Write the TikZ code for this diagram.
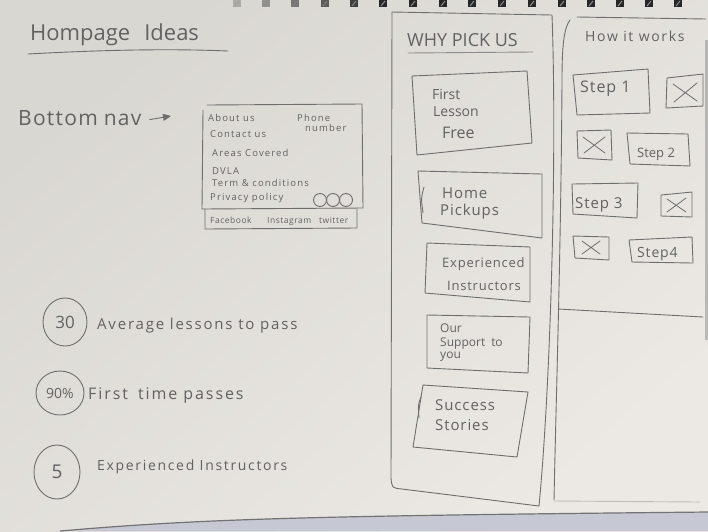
\documentclass[tikz,border=0pt]{standalone}
\usepackage{fontspec}
\setmainfont{Open Sans}
\newfontfamily\handwide[LetterSpace=12]{Open Sans}
\newfontfamily\handmid[LetterSpace=6]{Open Sans}
\usetikzlibrary{arrows.meta,shapes.geometric}
\definecolor{paperdark}{HTML}{D9D7D2}
\definecolor{paperlight}{HTML}{ECE9E4}
\definecolor{pencil}{HTML}{6E6E6E}
\definecolor{ink}{HTML}{626262}
\definecolor{table}{HTML}{C6C8D3}

\tikzset{
  pencil/.style={draw=pencil, line width=0.9pt, line join=round, line cap=round},
  hand/.style={text=ink, inner sep=0pt, anchor=base west},
  stat/.style={ellipse, pencil, text=ink, inner sep=0pt, font=\fontsize{17}{17}\selectfont},
  cross/.style={pencil, line width=0.8pt},
}
\newcommand{\fs}[1]{\fontsize{#1}{#1}\selectfont}

\begin{document}
\begin{tikzpicture}[x=1pt,y=-1pt]
\useasboundingbox (0,0) rectangle (708,531);

% sheet of paper
\shade[top color=paperdark, bottom color=paperlight, shading angle=40] (0,0) rectangle (708,531);

% table showing under the lower edge of the sheet
\fill[table] (60,531) .. controls (200,519) and (300,516) .. (708,512) -- (708,531) -- cycle;
\draw[black!55, line width=1.2pt] (60,531) .. controls (200,519) and (300,516) .. (708,512);
\fill[black!50, opacity=0.45] (705,40) rectangle (708,340);

% spiral binding along the top
\foreach \x/\o in {237/0.25,266/0.4,295/0.55,325/0.7,354/0.85,383/1,413/1,443/1,472/1,502/1,532/1,562/1,591/1,620/1,649/1,678/1}{
  \fill[black!85, opacity=\o] (\x-4,0) rectangle (\x+4,7);
  \draw[black!45, line width=1pt, opacity=\o] (\x-2,6) -- (\x+2,1);
}

% ---------- page title ----------
\node[hand, font=\fs{22}] (title) at (30,40) {Hompage\hspace{14pt}Ideas};
\draw[pencil] (28,54) .. controls (120,49) and (180,49) .. (228,51);

% ---------- bottom navigation mock-up ----------
\node[hand, font=\handmid\fs{21}] (navlabel) at (18,125) {Bottom\hspace{6pt}nav};
\coordinate (navtip) at (171,116);
\draw[pencil, -{Triangle[length=8pt,width=7pt]}] ([xshift=8pt,yshift=-2pt]navlabel.east) -- (navtip);

\draw[pencil] (207,105) -- (362,104) -- (363,208) -- (202,209) -- (203,110);
\draw[pencil] (205,209) -- (205,229) -- (357,228) -- (357,209);

\node[hand, font=\handwide\fs{9.5}] (about)   at (208,121) {About us};
\node[hand, font=\handwide\fs{9.5}] (phone)   at (297,121) {Phone};
\node[hand, font=\handwide\fs{9.5}] (number)  at (305,131) {number};
\node[hand, font=\handwide\fs{9.5}] (contact) at (210,137) {Contact us};
\node[hand, font=\handwide\fs{9.5}] (areas)   at (212,156) {Areas Covered};
\node[hand, font=\handwide\fs{9.5}] (dvla)    at (212,174) {DVLA};
\node[hand, font=\handwide\fs{9.5}] (terms)   at (212,186) {Term \& conditions};
\node[hand, font=\handwide\fs{9.5}] (privacy) at (210,200) {Privacy policy};
\foreach \cx in {320,333,346}{ \draw[pencil] (\cx,200) circle[radius=6.5pt]; }
\node[hand, font=\handmid\fs{8.5}] (facebook)  at (210,223) {Facebook};
\node[hand, font=\handmid\fs{8.5}] (instagram) at (267,223) {Instagram};
\node[hand, font=\handmid\fs{8.5}] (twitter)   at (319,223) {twitter};

% ---------- key figures ----------
\node[stat, minimum width=44pt, minimum height=48pt] (avg) at (65,322) {30};
\node[hand, font=\handwide\fs{15}] (avgtext) at (97,329) {Average lessons to pass};
\node[stat, minimum width=48pt, minimum height=44pt, font=\fs{14}] (rate) at (60,393) {90\%};
\node[hand, font=\handwide\fs{16}] (ratetext) at (88,399) {First\hspace{4pt} time passes};
\node[stat, minimum width=46pt, minimum height=54pt, font=\fs{19}] (count) at (57,472) {5};
\node[hand, font=\handwide\fs{14}] (counttext) at (97,470) {Experienced Instructors};

% ---------- "why pick us" column ----------
\draw[pencil] (392,12) -- (552,15) .. controls (557,150) and (551,380) .. (539,506)
  -- (402,489) .. controls (392,488) .. (391,478) -- cycle;
\node[hand, font=\fs{18}] (whytitle) at (407,46) {WHY PICK US};
\draw[pencil, draw=pencil!80] (408,53) -- (533,52);

\draw[pencil] (412,76) -- (527,71) -- (532,143) -- (417,155) -- cycle;
\node[hand, font=\fs{14}] (first)  at (432,99)  {First};
\node[hand, font=\fs{14}] (lesson) at (433,116) {Lesson};
\node[hand, font=\fs{16}] (free)   at (442,138) {Free};

\draw[pencil] (418,171) -- (542,174) -- (542,238) -- (422,223) -- cycle;
\draw[pencil] (424,187) .. controls (421,198) .. (423,213);
\node[hand, font=\handmid\fs{15}] (home)    at (442,198) {Home};
\node[hand, font=\handmid\fs{15}] (pickups) at (440,215) {Pickups};

\draw[pencil] (427,243) -- (530,247) -- (530,302) -- (425,293) -- cycle;
\node[hand, font=\handmid\fs{13}] (exp)   at (442,267) {Experienced};
\node[hand, font=\handmid\fs{13}] (instr) at (447,290) {Instructors};

\draw[pencil] (427,315) -- (530,317) -- (528,373) -- (427,368) -- cycle;
\node[hand, font=\fs{12}] (our)     at (440,332) {Our};
\node[hand, font=\fs{12}] (support) at (440,346) {Support\hspace{6pt}to};
\node[hand, font=\fs{12}] (you)     at (440,358) {you};

\draw[pencil] (423,385) -- (528,392) -- (517,457) -- (413,447) -- cycle;
\draw[pencil] (421,397) .. controls (418,405) .. (419,418);
\node[hand, font=\handmid\fs{15}] (success) at (435,410) {Success};
\node[hand, font=\handmid\fs{15}] (stories) at (435,430) {Stories};

% ---------- "how it works" column ----------
\draw[pencil] (577,17) -- (706,19);
\draw[pencil] (570,20) .. controls (564,28) and (562,45) .. (562,80) .. controls (561,250) and (556,400) .. (554,500);
\draw[pencil] (558,309) -- (703,317);
\draw[pencil, draw=pencil!45] (554,501) -- (700,502);
\node[hand, font=\handwide\fs{14}] (howtitle) at (585,41) {How it works};

% steps and picture placeholders
\draw[pencil] (573,75) -- (648,69) -- (650,113) -- (577,115) -- cycle;
\node[hand, font=\handmid\fs{16}] (step1) at (580,92) {Step 1};
\draw[pencil] (667,78) -- (703,74) -- (703,106) -- (666,108) -- cycle;
\draw[cross] (673,84) -- (697,101) (697,83) -- (674,102);

\draw[pencil] (577,131) -- (611,130) -- (612,160) -- (578,158) -- cycle;
\draw[cross] (583,137) -- (605,153) (605,137) -- (584,153);
\draw[pencil] (627,133) -- (688,134) -- (690,166) -- (630,164) -- cycle;
\node[hand, font=\fs{13}] (step2) at (637,157) {Step 2};

\draw[pencil] (572,184) -- (638,183) -- (637,218) -- (573,214) -- cycle;
\node[hand, font=\handmid\fs{15}] (step3) at (575,208) {Step 3};
\draw[pencil] (661,195) -- (692,192) -- (692,217) -- (661,216) -- cycle;
\draw[cross] (667,199) -- (686,212) (686,198) -- (667,212);

\draw[pencil] (573,236) -- (609,237) -- (609,260) -- (575,258) -- cycle;
\draw[cross] (582,241) -- (600,254) (600,241) -- (582,254);
\draw[pencil] (629,240) -- (692,237) -- (693,263) -- (632,262) -- cycle;
\node[hand, font=\handmid\fs{14}] (step4) at (637,257) {Step4};

\end{tikzpicture}
\end{document}
